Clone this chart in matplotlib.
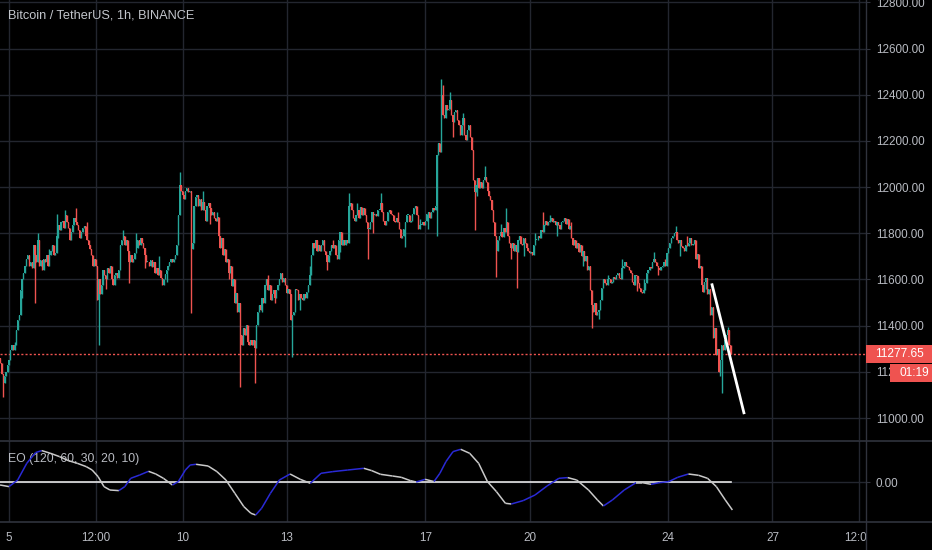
import matplotlib
matplotlib.use("Agg")
import matplotlib.pyplot as plt
from matplotlib.collections import LineCollection
from matplotlib.patches import Rectangle
from matplotlib.lines import Line2D
import numpy as np

# ---------------- data ----------------
title = "Bitcoin / TetherUS, 1h, BINANCE"
eo_label = "EO (120, 60, 30, 20, 10)"
start_hour = -6          # hours relative to Aug 5 00:00
first_open = 11260

aug04 = [11240, 11190, 11150, 11180, 11200, 11230]
aug05 = [11250, 11295, 11315, 11295, 11315, 11380, 11425, 11445, 11555, 11600, 11630, 11660,
         11690, 11705, 11660, 11675, 11650, 11750, 11705, 11675, 11770, 11660, 11685, 11640]
aug06 = [11690, 11675, 11705, 11660, 11705, 11725, 11750, 11705, 11715, 11790, 11835, 11815,
         11850, 11855, 11825, 11880, 11850, 11825, 11770, 11805, 11835, 11865, 11850, 11835]
aug07 = [11815, 11780, 11805, 11825, 11830, 11790, 11770, 11750, 11730, 11705, 11660, 11690,
         11660, 11510, 11600, 11535, 11575, 11640, 11620, 11600, 11650, 11630, 11660, 11600]
aug08 = [11575, 11620, 11630, 11605, 11640, 11750, 11770, 11790, 11750, 11770, 11725, 11675,
         11705, 11675, 11690, 11715, 11735, 11770, 11750, 11780, 11760, 11735, 11705, 11675]
aug09 = [11675, 11660, 11685, 11655, 11675, 11630, 11650, 11620, 11640, 11605, 11575, 11600,
         11625, 11640, 11660, 11675, 11690, 11675, 11690, 11705, 11750, 11880, 12010, 11985]
aug10 = [11965, 11950, 11985, 11995, 11980, 11985, 11730, 11760, 11920, 11955, 11965, 11920,
         11950, 11900, 11935, 11900, 11855, 11920, 11930, 11910, 11880, 11890, 11865]
aug11 = [11855, 11870, 11790, 11735, 11780, 11705, 11730, 11675, 11690, 11630, 11660, 11570,
         11600, 11500, 11540, 11460, 11500, 11360, 11315, 11390, 11360, 11405, 11330, 11315]
aug12 = [11340, 11315, 11340, 11305, 11405, 11460, 11490, 11470, 11520, 11500, 11575, 11600,
         11555, 11575, 11510, 11535, 11555, 11520, 11555, 11575, 11600, 11630, 11590, 11605]
aug13 = [11575, 11540, 11560, 11535, 11425, 11445, 11460, 11560, 11555, 11510, 11535, 11520,
         11510, 11535, 11520, 11545, 11575, 11620, 11705, 11760, 11735, 11770, 11725, 11750]
aug14 = [11725, 11750, 11770, 11725, 11705, 11675, 11705, 11725, 11750, 11735, 11750, 11705,
         11690, 11770, 11805, 11750, 11770, 11750, 11770, 11760, 11920, 11930, 11900, 11865]
aug15 = [11855, 11880, 11900, 11865, 11915, 11880, 11910, 11880, 11850, 11820, 11820, 11850,
         11890, 11880, 11885, 11875, 11900, 11900, 11930, 11890, 11855, 11835, 11855, 11890]
aug16 = [11900, 11885, 11880, 11855, 11850, 11865, 11850, 11820, 11780, 11790, 11820, 11850,
         11880, 11880, 11850, 11855, 11885, 11910, 11920, 11880, 11820, 11835, 11835, 11850]
aug17 = [11835, 11855, 11885, 11890, 11865, 11890, 11910, 11900, 11920, 12140, 12190, 12150,
         12400, 12310, 12300, 12355, 12335, 12340, 12375, 12310, 12280, 12325, 12335, 12290]
aug18 = [12270, 12225, 12270, 12300, 12225, 12205, 12245, 12270, 12215, 12160, 12030, 11980,
         12010, 12040, 11995, 12020, 11995, 12030, 12045, 12020, 11985, 11960, 11945, 11900]
aug19 = [11850, 11790, 11725, 11770, 11790, 11805, 11785, 11825, 11805, 11850, 11790, 11760,
         11735, 11760, 11725, 11750, 11720, 11770, 11790, 11755, 11750, 11780, 11760, 11735]
aug20 = [11725, 11715, 11720, 11705, 11750, 11770, 11770, 11790, 11780, 11815, 11805, 11835,
         11855, 11835, 11850, 11855, 11865, 11850, 11855, 11835, 11850, 11835, 11820, 11850]
aug21 = [11855, 11865, 11840, 11860, 11820, 11830, 11780, 11750, 11770, 11735, 11760, 11720,
         11750, 11700, 11725, 11680, 11700, 11640, 11660, 11555, 11490, 11460, 11500, 11445]
aug22 = [11460, 11470, 11510, 11565, 11600, 11585, 11575, 11600, 11600, 11585, 11590, 11610,
         11600, 11620, 11630, 11605, 11600, 11650, 11660, 11675, 11660, 11655, 11640, 11630]
aug23 = [11590, 11575, 11620, 11615, 11585, 11565, 11545, 11540, 11555, 11585, 11630, 11640,
         11655, 11650, 11675, 11690, 11675, 11660, 11650, 11640, 11655, 11660, 11675, 11660]
aug24 = [11715, 11735, 11760, 11780, 11790, 11800, 11805, 11770, 11760, 11770, 11745, 11735,
         11725, 11750, 11745, 11760, 11780, 11750, 11755, 11770, 11690, 11710, 11650, 11660]
aug25 = [11575, 11545, 11590, 11605, 11535, 11560, 11445, 11480, 11345, 11390, 11275, 11300,
         11200, 11250, 11315, 11295, 11340, 11360, 11380, 11315, 11277.65]

# notable wick extremes (candle index -> price)
wick_high = {10: 11330, 26: 11800, 34: 11730, 39: 11885, 45: 11900, 52: 11910, 60: 11850,
             85: 11815, 94: 11800, 110: 11700, 124: 12065, 140: 11985, 150: 11890,
             185: 11620, 214: 11660, 230: 11770, 241: 11975, 247: 11930, 263: 11975,
             275: 11890, 290: 11860, 305: 12470, 306: 12440, 311: 12410, 320: 12320,
             335: 12090, 346: 11840, 350: 11910, 370: 11800, 375: 11890, 380: 11880,
             395: 11850, 420: 11620, 430: 11690, 445: 11600, 452: 11720, 460: 11690,
             467: 11830, 475: 11790, 503: 11395}
wick_low = {2: 11090, 15: 11520, 24: 11500, 40: 11780, 68: 11315, 73: 11560, 89: 11585,
            100: 11650, 115: 11590, 132: 11455, 145: 11840, 158: 11600, 166: 11135,
            176: 11150, 181: 11460, 190: 11500, 202: 11265, 207: 11470, 226: 11640,
            235: 11720, 254: 11690, 258: 11800, 280: 11740, 296: 11820, 302: 11790,
            313: 12215, 328: 11815, 330: 11960, 343: 11610, 353: 11690, 357: 11565,
            362: 11700, 385: 11790, 403: 11660, 409: 11390, 414: 11430, 440: 11550,
            455: 11620, 470: 11700, 488: 11560, 498: 11180, 499: 11110}

# EO oscillator (hour, value)
eo_hours = [-6.2, 0, 6, 12.3, 18.4, 22.6, 28.7, 34.9, 41, 47.2, 53.4, 57.5, 61.6, 65.7, 69.8,
            76, 80.1, 84.2, 90.4, 96.5, 101.5, 106.8, 113, 117.1, 122, 125.3, 129.4, 137.7,
            143.8, 150, 156.2, 162.4, 167.3, 170.6, 174.7, 180.8, 187, 194.4, 201.4, 208.4,
            215.8, 224, 234.3, 245.4, 250.8, 256.9, 265.2, 271.3, 277.5, 281.6, 287.8, 293.9,
            298, 302.2, 307.1, 312.4, 318.6, 324.8, 330.9, 337.1, 343.3, 347.4, 355.6, 363.8,
            372.1, 380.3, 386.4, 392.6, 400.8, 407, 411.1, 417.3, 425.5, 433.7, 437.8, 444,
            450.1, 456.3, 462.5, 469.9, 476.9, 483.1, 489.2, 495.4, 500.3]
eo_values = [-2.7, -4.3, 2.3, 19, 29.7, 31.7, 29, 25.7, 21.7, 19, 15.7, 12.3, 5.7, -4.3, -7.7,
             -8.3, -4.3, 4, 7.3, 11, 8.3, 4, -2.7, 0.7, 12.3, 17.3, 18, 16.3, 10.7, 2.3, -11,
             -24.3, -31, -32.7, -26, -11, 2.3, 8.3, 3, -1, 9, 10.7, 12.3, 14, 11.7, 8, 6.3, 5,
             1.7, 0.3, 3, 0.7, 9, 20.7, 30.7, 33, 29, 19, 0.7, -9.3, -21, -21.7, -18.3, -12.7,
             -3.7, 4, 4.7, 2.3, -7.7, -17.7, -23.7, -17.7, -7.7, -0.3, -0.3, -2, -0.3, 0.7, 5,
             8.3, 7, 4, -4.3, -17.7, -27.7]

trend_hours = [486.0, 508.5]
trend_prices = [11583, 11017]

last_price = 11277.65
countdown = "01:19"

price_ticks = [11000, 11200, 11400, 11600, 11800, 12000, 12200, 12400, 12600, 12800]
time_tick_hours = [0, 60, 120, 192, 288, 360, 456, 528, 588]
time_tick_labels = ["5", "12:00", "10", "13", "17", "20", "24", "27", "12:00"]

# ---------------- style ----------------
BG = "#000000"
GRID = "#23262f"
SEP = "#30333d"
TXT = "#b8bbc2"
UP = "#26a69a"
DOWN = "#ef5350"
FONT = ["Liberation Sans", "DejaVu Sans"]
plt.rcParams["font.family"] = FONT

W, H = 932, 550
fig = plt.figure(figsize=(W / 100, H / 100), dpi=100, facecolor=BG)
plot_w = 866 / W
ax = fig.add_axes([0, 110 / H, plot_w, 440 / H], facecolor=BG)
ax2 = fig.add_axes([0, 28 / H, plot_w, 81 / H], facecolor=BG)

xlim = (-6.22, 592.7)

# ---- candles ----
closes = np.array(aug04 + aug05 + aug06 + aug07 + aug08 + aug09 + aug10 + aug11 + aug12 +
                  aug13 + aug14 + aug15 + aug16 + aug17 + aug18 + aug19 + aug20 + aug21 +
                  aug22 + aug23 + aug24 + aug25, dtype=float)
n = len(closes)
hours = start_hour + np.arange(n)
opens = np.concatenate([[first_open], closes[:-1]])
highs = np.maximum(opens, closes)
lows = np.minimum(opens, closes)
for k, v in wick_high.items():
    highs[k] = max(highs[k], v)
for k, v in wick_low.items():
    lows[k] = min(lows[k], v)
cols = np.where(closes >= opens, UP, DOWN)

ax.vlines(hours, lows, highs, colors=cols, lw=1.0, zorder=3)
body = np.maximum(np.abs(closes - opens), 5)
ax.bar(hours, body, bottom=np.minimum(opens, closes), width=0.85, color=cols, lw=0, zorder=3)

ax.axhline(last_price, color=DOWN, lw=1.0, ls=(0, (1.5, 1.5)), zorder=2)
ax.plot(trend_hours, trend_prices, color="white", lw=2, solid_capstyle="butt", zorder=4)

ax.set_xlim(*xlim)
ax.set_ylim(10905, 12810)
ax.set_yticks(price_ticks)
ax.set_yticklabels([f"{p:.2f}" for p in price_ticks])
ax.yaxis.tick_right()
ax.set_xticks(time_tick_hours)
ax.tick_params(axis="x", length=0, labelbottom=False)
ax.tick_params(axis="y", length=3, width=0.8, color=SEP, pad=4, labelsize=8.4, labelcolor=TXT)
ax.grid(True, color=GRID, lw=1)
ax.set_axisbelow(True)
for s in ax.spines.values():
    s.set_visible(False)

# ---- oscillator ----
eh = np.array(eo_hours)
ev = np.array(eo_values)
segs = np.stack([np.column_stack([eh[:-1], ev[:-1]]), np.column_stack([eh[1:], ev[1:]])], axis=1)
seg_cols = ["#2a2ad6" if ev[i + 1] > ev[i] else "#c9c9c9" for i in range(len(ev) - 1)]
ax2.add_collection(LineCollection(segs, colors=seg_cols, lw=1.1, zorder=4))
ax2.plot([start_hour, hours[-1]], [0, 0], color="#e6e6e6", lw=1.2, zorder=3)

ax2.set_xlim(*xlim)
ax2.set_ylim(-39.7, 41.3)
ax2.set_yticks([0])
ax2.set_yticklabels(["0.00"])
ax2.yaxis.tick_right()
ax2.set_xticks(time_tick_hours)
ax2.set_xticklabels(time_tick_labels)
ax2.tick_params(axis="x", length=0, pad=7, labelsize=8.4, labelcolor=TXT)
ax2.tick_params(axis="y", length=3, width=0.8, color=SEP, pad=4, labelsize=8.4, labelcolor=TXT)
ax2.grid(True, color=GRID, lw=1)
ax2.set_axisbelow(True)
for s in ax2.spines.values():
    s.set_visible(False)
ax2.text(0.009, 0.78, eo_label, transform=ax2.transAxes, color=TXT, fontsize=8.8,
         va="center", ha="left")

# ---- title ----
fig.text(8 / W, 1 - 15 / H, title, color="#c3c6cc", fontsize=9.2, va="center", ha="left")

# ---- separators / covers ----
fig.add_artist(Rectangle((plot_w, 0), 1 - plot_w, 28 / H, transform=fig.transFigure,
                         facecolor=BG, edgecolor="none", zorder=10))
for yy in (ax2.get_position().y1, ax2.get_position().y0):
    fig.add_artist(Line2D([0, 1], [yy, yy], transform=fig.transFigure, color=SEP, lw=1.2,
                          zorder=11))
fig.add_artist(Line2D([plot_w, plot_w], [0, 1], transform=fig.transFigure, color=SEP, lw=1,
                      zorder=11))

# ---- last price labels ----
fig.canvas.draw()
y_disp = ax.transData.transform((0, last_price))[1]
x0 = ax.transAxes.transform((1, 0))[0]
fig.add_artist(Rectangle((x0, y_disp - 9), W - x0, 18, transform=None,
                         facecolor=DOWN, edgecolor="none", zorder=12))
fig.text((x0 + 9) / W, y_disp / H, f"{last_price:.2f}", color="white", fontsize=8.6,
         va="center", ha="left", zorder=13)
fig.add_artist(Rectangle((x0 + 24, y_disp - 28), W - x0 - 24, 18, transform=None,
                         facecolor=DOWN, edgecolor="none", zorder=12))
fig.text((x0 + 33) / W, (y_disp - 19) / H, countdown, color="white", fontsize=8.6,
         va="center", ha="left", zorder=13)

fig.savefig("out.png", dpi=100, facecolor=BG)
